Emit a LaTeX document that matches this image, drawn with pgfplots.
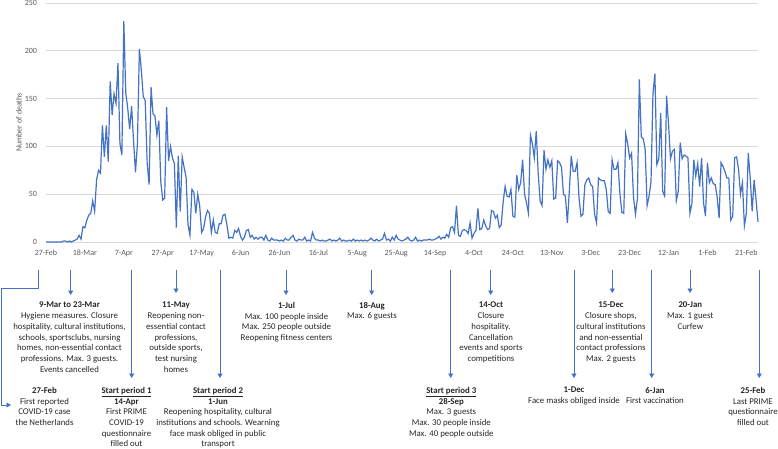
\documentclass[border=0pt]{standalone}
\usepackage{fontspec}
\setmainfont{Carlito}
\usepackage{pgfplots}
\pgfplotsset{compat=1.18}
\usetikzlibrary{arrows.meta}
\definecolor{lineblue}{HTML}{4472C4}
\definecolor{arrowblue}{HTML}{4472C4}
\definecolor{gridgray}{HTML}{D9D9D9}
\definecolor{ticktext}{HTML}{595959}
\definecolor{anntext}{HTML}{262626}
\begin{document}
\begin{tikzpicture}[x=1pt,y=1pt]
\path[use as bounding box] (0,0) rectangle (778,448);
\begin{axis}[
  at={(46pt,206pt)}, anchor=south west,
  scale only axis, width=712pt, height=239pt,
  xmin=0, xmax=366, ymin=0, ymax=250,
  xtick={0,20,...,360},
  xticklabels={27-Feb,18-Mar,7-Apr,27-Apr,17-May,6-Jun,26-Jun,16-Jul,5-Aug,25-Aug,14-Sep,4-Oct,24-Oct,13-Nov,3-Dec,23-Dec,12-Jan,1-Feb,21-Feb},
  ytick={0,50,...,250},
  ymajorgrids, grid style={gridgray, line width=0.8pt},
  axis line style={draw=none},
  major tick length=0pt,
  tick label style={font=\fontsize{8}{9.6}\selectfont, text=ticktext},
  xticklabel style={yshift=-4.5pt},
  yticklabel style={xshift=-5.5pt},
  /pgf/number format/assume math mode=true,
  clip=false,
]
\addplot[lineblue, line width=1.2pt, mark=none] coordinates {
(0,0)(1,0)(2,0)(3,0)(4,0)(5,0)(6,0)(7,0)(8,0)(9,1)
(10,1)(11,0)(12,1)(13,0)(14,1)(15,2)(16,3)(17,7)(18,3)(19,16)
(20,15)(21,23)(22,28)(23,30)(24,43)(25,32)(26,65)(27,75)(28,72)(29,122)
(30,89)(31,122)(32,84)(33,168)(34,133)(35,155)(36,145)(37,187)(38,103)(39,91)
(40,231)(41,156)(42,140)(43,118)(44,142)(45,106)(46,73)(47,103)(48,202)(49,180)
(50,152)(51,148)(52,83)(53,60)(54,162)(55,134)(56,132)(57,112)(58,127)(59,63)
(60,44)(61,46)(62,141)(63,85)(64,100)(65,88)(66,82)(67,15)(68,90)(69,32)
(70,89)(71,78)(72,68)(73,18)(74,7)(75,55)(76,52)(77,30)(78,50)(79,38)
(80,10)(81,14)(82,26)(83,33)(84,30)(85,10)(86,23)(87,10)(88,9)(89,19)
(90,19)(91,28)(92,29)(93,18)(94,4)(95,5)(96,4)(97,12)(98,10)(99,14)
(100,6)(101,2)(102,5)(103,12)(104,13)(105,5)(106,7)(107,3)(108,5)(109,3)
(110,5)(111,5)(112,2)(113,7)(114,2)(115,1)(116,4)(117,2)(118,2)(119,2)
(120,1)(121,2)(122,1)(123,4)(124,2)(125,2)(126,5)(127,7)(128,2)(129,1)
(130,3)(131,2)(132,2)(133,5)(134,1)(135,2)(136,1)(137,10)(138,4)(139,2)
(140,2)(141,1)(142,2)(143,1)(144,1)(145,2)(146,3)(147,1)(148,2)(149,1)
(150,2)(151,4)(152,1)(153,2)(154,1)(155,1)(156,2)(157,1)(158,3)(159,1)
(160,2)(161,1)(162,2)(163,1)(164,2)(165,1)(166,2)(167,4)(168,2)(169,1)
(170,3)(171,1)(172,2)(173,3)(174,9)(175,2)(176,3)(177,1)(178,5)(179,2)
(180,7)(181,3)(182,2)(183,1)(184,2)(185,3)(186,5)(187,2)(188,1)(189,2)
(190,5)(191,1)(192,2)(193,1)(194,2)(195,2)(196,2)(197,3)(198,2)(199,2)
(200,3)(201,4)(202,6)(203,3)(204,5)(205,4)(206,8)(207,5)(208,15)(209,16)
(210,10)(211,38)(212,7)(213,6)(214,12)(215,13)(216,12)(217,9)(218,20)(219,4)
(220,9)(221,12)(222,35)(223,13)(224,14)(225,23)(226,17)(227,13)(228,14)(229,33)
(230,32)(231,25)(232,28)(233,15)(234,18)(235,42)(236,58)(237,48)(238,47)(239,55)
(240,27)(241,26)(242,70)(243,55)(244,62)(245,86)(246,50)(247,41)(248,30)(249,112)
(250,103)(251,88)(252,116)(253,72)(254,43)(255,38)(256,96)(257,76)(258,86)(259,78)
(260,85)(261,45)(262,46)(263,85)(264,83)(265,78)(266,50)(267,48)(268,20)(269,53)
(270,90)(271,74)(272,74)(273,83)(274,46)(275,27)(276,29)(277,60)(278,65)(279,67)
(280,60)(281,58)(282,29)(283,20)(284,67)(285,65)(286,64)(287,64)(288,55)(289,32)
(290,30)(291,86)(292,76)(293,76)(294,83)(295,51)(296,31)(297,30)(298,113)(299,103)
(300,88)(301,93)(302,47)(303,29)(304,45)(305,170)(306,110)(307,108)(308,97)(309,38)
(310,48)(311,63)(312,155)(313,176)(314,81)(315,87)(316,135)(317,53)(318,48)(319,153)
(320,124)(321,87)(322,95)(323,97)(324,43)(325,53)(326,104)(327,87)(328,91)(329,90)
(330,88)(331,30)(332,40)(333,86)(334,69)(335,82)(336,58)(337,88)(338,41)(339,27)
(340,83)(341,62)(342,67)(343,61)(344,60)(345,47)(346,25)(347,83)(348,79)(349,74)
(350,67)(351,67)(352,23)(353,27)(354,88)(355,89)(356,76)(357,50)(358,62)(359,17)
(360,30)(361,93)(362,67)(363,32)(364,65)(365,44)(366,21)
};
\end{axis}
\node[rotate=90, font=\fontsize{8}{9.6}\selectfont, text=ticktext] at (19,325.5) {Number of deaths};
\tikzset{ann/.style={arrowblue, line width=0.9pt, -{Triangle[length=4.5pt,width=5pt]}},
  txt/.style={anchor=north, align=center, inner sep=0pt, font=\fontsize{8.8}{10.7}\selectfont, text=anntext}}
% arrows
\draw[ann] (38.3,178) -- (38.3,160) -- (1.7,160) -- (1.7,43) -- (11,43);
\draw[ann] (70.7,178) -- (70.7,153);
\draw[ann] (131.7,178) -- (131.7,70);
\draw[ann] (176,178) -- (176,155);
\draw[ann] (220,178) -- (220,70);
\draw[ann] (286,178) -- (286,153);
\draw[ann] (371.7,178) -- (371.7,153);
\draw[ann] (450.7,178) -- (450.7,70);
\draw[ann] (490.7,178) -- (490.7,153);
\draw[ann] (574,178) -- (574,70);
\draw[ann] (612.3,178) -- (612.3,155);
\draw[ann] (651.7,178) -- (651.7,70);
\draw[ann] (690,178) -- (690,155);
\draw[ann] (759.3,178) -- (759.3,70);
% upper texts
\node[txt] at (69.5,146) {\textbf{9-Mar to 23-Mar}\\Hygiene measures. Closure\\hospitality, cultural institutions,\\schools, sportsclubs, nursing\\homes, non-essential contact\\professions. Max. 3 guests.\\Events cancelled};
\node[txt] at (176,146) {\textbf{11-May}\\Reopening non-\\essential contact\\professions,\\outside sports,\\test nursing\\homes};
\node[txt] at (286.5,146) {\textbf{1-Jul}\\Max. 100 people inside\\Max. 250 people outside\\Reopening fitness centers};
\node[txt] at (372,146) {\textbf{18-Aug}\\Max. 6 guests};
\node[txt] at (491,146) {\textbf{14-Oct}\\Closure\\hospitality.\\Cancellation\\events and sports\\competitions};
\node[txt] at (611,146) {\textbf{15-Dec}\\Closure shops,\\cultural institutions\\and non-essential\\contact professions\\Max. 2 guests};
\node[txt] at (690.3,146) {\textbf{20-Jan}\\Max. 1 guest\\Curfew};
% lower texts
\node[txt] at (44.5,61) {\textbf{27-Feb}\\First reported\\COVID-19 case\\the Netherlands};
\node[txt] at (126.5,61) {\underline{\textbf{Start period 1}}\\\textbf{14-Apr}\\First PRIME\\COVID-19\\questionnaire\\filled out};
\node[txt] at (218,61) {\underline{\textbf{Start period 2}}\\\textbf{1-Jun}\\Reopening hospitality, cultural\\institutions and schools. Wearning\\face mask obliged in public\\transport};
\node[txt] at (451.3,61) {\underline{\textbf{Start period 3}}\\\textbf{28-Sep}\\Max. 3 guests\\Max. 30 people inside\\Max. 40 people outside};
\node[txt] at (574,61) {\textbf{1-Dec}\\Face masks obliged inside};
\node[txt] at (655,61) {\textbf{6-Jan}\\First vaccination};
\node[txt] at (753,61) {\textbf{25-Feb}\\Last PRIME\\questionnaire\\filled out};
\end{tikzpicture}
\end{document}
